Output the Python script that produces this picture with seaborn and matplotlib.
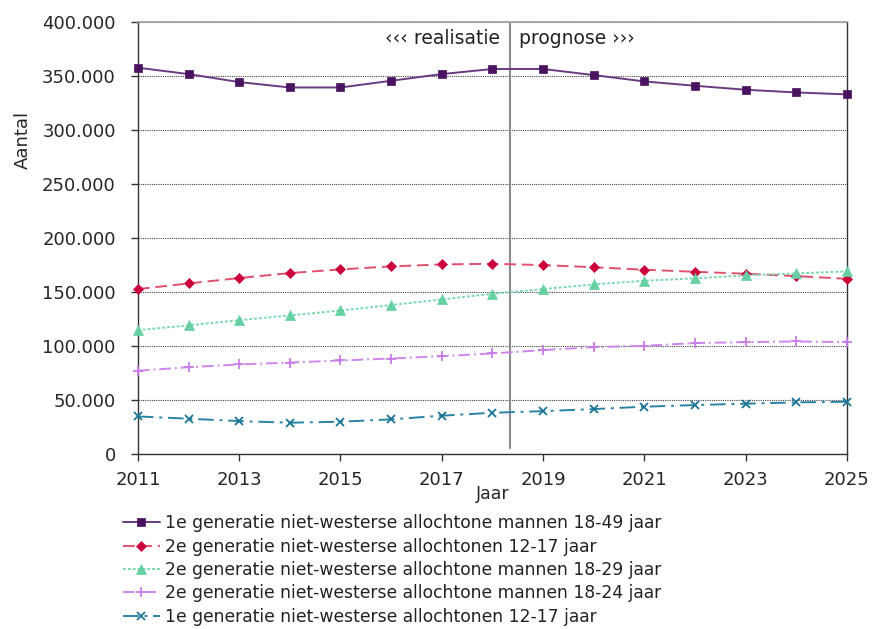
import numpy as np
import pandas as pd
import matplotlib
matplotlib.use("Agg")
import matplotlib.pyplot as plt
from matplotlib.ticker import FuncFormatter, MultipleLocator
import seaborn as sns

# data
years = list(range(2011, 2026))

labels = [
    "1e generatie niet-westerse allochtone mannen 18-49 jaar",
    "2e generatie niet-westerse allochtonen 12-17 jaar",
    "2e generatie niet-westerse allochtone mannen 18-29 jaar",
    "2e generatie niet-westerse allochtone mannen 18-24 jaar",
    "1e generatie niet-westerse allochtonen 12-17 jaar",
]

mannen_18_49 = [357700, 351800, 344400, 339400, 339400, 345600, 351800, 356500,
                356500, 350900, 345000, 341000, 337300, 334800, 333000]
jeugd2_12_17 = [152800, 158000, 163000, 167600, 171000, 173800, 175600, 176200,
                175000, 173000, 170700, 168800, 167000, 164800, 162300]
mannen2_18_29 = [114800, 119200, 124000, 128400, 133000, 138000, 143200, 148400,
                 152800, 157100, 160500, 162700, 165500, 167300, 169200]
mannen2_18_24 = [77200, 80500, 83000, 84800, 86700, 88500, 90700, 93200,
                 96300, 99000, 100300, 102800, 103700, 104300, 103700]
jeugd1_12_17 = [34900, 32800, 30600, 29100, 30000, 32200, 35600, 38300,
                39800, 41700, 43900, 45400, 46700, 47900, 48500]

series = [mannen_18_49, jeugd2_12_17, mannen2_18_29, mannen2_18_24, jeugd1_12_17]

split_year = 2018.35  # grens realisatie / prognose

# styles per series
line_colors = ["#6a3a80", "#e0506e", "#7ad9b2", "#cf86ec", "#2a84a6"]
marker_colors = ["#4a1360", "#cc003c", "#66d0a4", "#c77be6", "#1d7596"]
markers = ["s", "D", "^", "+", "x"]
marker_sizes = [6, 5, 6.5, 6.5, 6]
dashes = [(None, None), (6, 3), (1.5, 1), (6, 2, 1, 2), (8, 3, 1.5, 3)]

sns.set_theme(style="white")
plt.rcParams["font.family"] = ["DejaVu Sans"]
plt.rcParams["text.color"] = "#222222"

fig = plt.figure(figsize=(8.73, 6.29), dpi=100)
ax = fig.add_axes([0.158, 0.278, 0.812, 0.687])

for vals, lab, lc, mc, mk, ms, ds in zip(series, labels, line_colors, marker_colors,
                                          markers, marker_sizes, dashes):
    df = pd.DataFrame({"Jaar": years, "Aantal": vals})
    sns.lineplot(data=df, x="Jaar", y="Aantal", ax=ax, color=lc, lw=1.4,
                 marker=mk, markersize=ms, markerfacecolor=mc, markeredgecolor=mc,
                 markeredgewidth=1.3 if mk in "+x" else 0.5, label=lab, clip_on=False,
                 zorder=3)
    if ds != (None, None):
        ax.lines[-1].set_dashes(ds)

ax.axvline(split_year, ymin=0.014, ymax=1, color="#8c8c8c", lw=1.5, zorder=2)
ax.text(split_year - 0.2, 385000, "\u2039\u2039\u2039 realisatie", ha="right",
        va="center", fontsize=13.5)
ax.text(split_year + 0.18, 385000, "prognose \u203a\u203a\u203a", ha="left",
        va="center", fontsize=13.5)

ax.set_xlim(2011, 2025)
ax.set_ylim(0, 400000)
ax.set_xticks(years[::2])
ax.yaxis.set_major_locator(MultipleLocator(50000))
ax.yaxis.set_major_formatter(FuncFormatter(lambda v, p: f"{v:,.0f}".replace(",", ".")))
ax.tick_params(axis="both", labelsize=13, length=5, width=1, color="#333333",
               direction="out", bottom=True, left=True)
ax.tick_params(axis="y", pad=11)
ax.tick_params(axis="x", pad=7)
ax.yaxis.grid(True, linestyle=(0, (1, 1)), color="#444444", lw=0.8)
ax.xaxis.grid(False)

for side in ["left", "bottom", "right"]:
    ax.spines[side].set_color("#333333")
    ax.spines[side].set_linewidth(1)
ax.spines["top"].set_color("#a0a0a0")
ax.spines["top"].set_linewidth(1.2)

ax.set_xlabel("Jaar", fontsize=12.5, labelpad=-3)
ax.set_ylabel("Aantal", fontsize=13)
ax.yaxis.set_label_coords(-0.15, 0.727)

handles, labs = ax.get_legend_handles_labels()
ax.get_legend().remove()
fig.legend(handles, labs, loc="upper left", bbox_to_anchor=(0.133, 0.193),
           frameon=False, fontsize=12.3, handlelength=2.15, handletextpad=0.3,
           labelspacing=0.31, borderaxespad=0)

fig.savefig("out.png", dpi=100)
